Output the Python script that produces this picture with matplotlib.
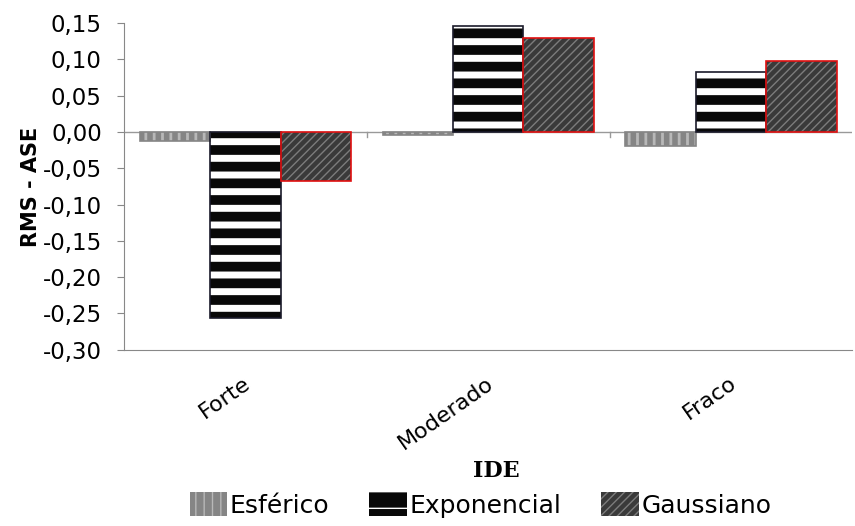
import numpy as np
import matplotlib
matplotlib.use("Agg")
import matplotlib.pyplot as plt
from matplotlib.patches import Patch

categories = ["Forte", "Moderado", "Fraco"]
series = ["Esférico", "Exponencial", "Gaussiano"]
esferico = [-0.012, -0.004, -0.019]
exponencial = [-0.256, 0.146, 0.083]
gaussiano = [-0.068, 0.129, 0.098]
yticks = [0.15, 0.10, 0.05, 0.00, -0.05, -0.10, -0.15, -0.20, -0.25, -0.30]

# fill, hatch colour, hatch, outline, hatch width
styles = [
    ("#858585", "#b8b8b8", "||", "#858585", 2.0),
    ("#080808", "#ffffff", "-", "#1a1a2a", 5.0),
    ("#3a3a3a", "#7c7c7c", "////", "#e01010", 1.0),
]

plt.rcParams["font.family"] = ["DejaVu Sans"]

fig = plt.figure(figsize=(8.55, 5.26), dpi=100)
ax = fig.add_axes([0.145, 0.335, 0.852, 0.621])

x = np.arange(len(categories))
w = 0.29
values = [esferico, exponencial, gaussiano]


def hatched_bar(xpos, h, style):
    face, hcol, hatch, edge, hlw = style
    with plt.rc_context({"hatch.linewidth": hlw}):
        bars = ax.bar(xpos, h, w, color=face, edgecolor=hcol, hatch=hatch,
                      linewidth=0, zorder=2)
    for b in bars:
        if hasattr(b, "set_hatch_linewidth"):
            b.set_hatch_linewidth(hlw)
    ax.bar(xpos, h, w, fill=False, edgecolor=edge, linewidth=1.2, zorder=3)


for i, vals in enumerate(values):
    hatched_bar(x + (i - 1) * w, vals, styles[i])

ax.set_xlim(-0.5, 2.5)
ax.set_ylim(-0.30, 0.15)
ax.set_yticks(yticks)
ax.set_yticklabels([f"{v:.2f}".replace(".", ",") for v in yticks], fontsize=16.5)
ax.tick_params(axis="y", direction="out", length=5, color="#888888", pad=11)

ax.axhline(0, color="#999999", linewidth=1.0, zorder=1)
for b in [0.5, 1.5]:
    ax.plot([b, b], [0, -0.007], color="#999999", linewidth=1.0, zorder=1)

ax.set_xticks([])
for xi, c in zip(x, categories):
    ax.text(xi - 0.01, -0.332, c, rotation=35, rotation_mode="anchor",
            ha="right", va="top", fontsize=16)

for s in ["top", "right"]:
    ax.spines[s].set_visible(False)
for s in ["left", "bottom"]:
    ax.spines[s].set_color("#888888")

ax.set_ylabel("RMS - ASE", fontsize=15, fontweight="bold", labelpad=1)

fig.text(0.58, 0.105, "IDE", ha="center", va="center", fontsize=16,
         fontweight="bold", family="DejaVu Serif")

handles = []
for st in styles:
    face, hcol, hatch, edge, hlw = st
    handles.append(Patch(facecolor=face, edgecolor=hcol, hatch=hatch, linewidth=0))
fig.legend(handles, series, loc="center", bbox_to_anchor=(0.562, 0.04),
           ncol=3, frameon=False, fontsize=18, handlelength=1.5,
           handleheight=1.1, handletextpad=0.1, columnspacing=1.6)

fig.savefig("out.png", dpi=100)
